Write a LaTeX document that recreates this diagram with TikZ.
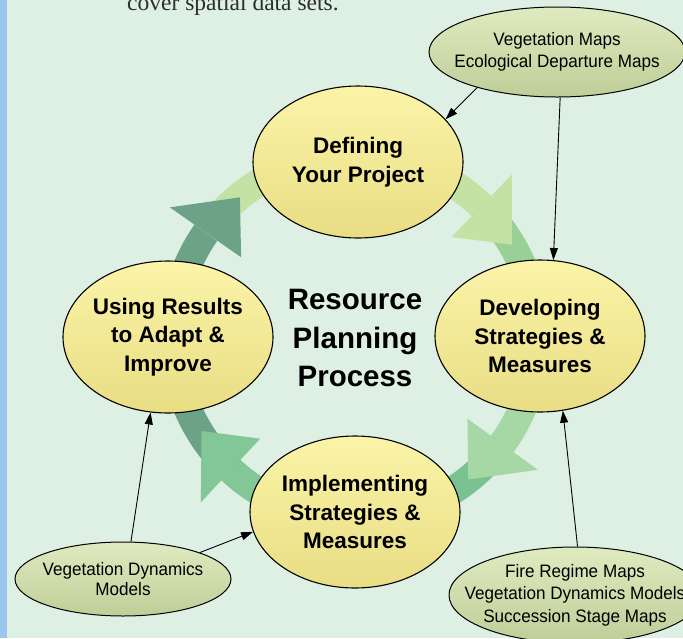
\documentclass[tikz,border=0pt]{standalone}
\usepackage{fontspec}
\setmainfont{Liberation Sans}
\newfontfamily\narrowfont[FakeStretch=0.95]{Liberation Sans}
\newfontfamily\pagefont{Liberation Serif}
\usetikzlibrary{positioning, shapes.geometric, arrows.meta}

\definecolor{paper}{RGB}{222,240,228}
\definecolor{margin}{RGB}{155,198,238}
\definecolor{pagetext}{RGB}{45,45,45}
\definecolor{phasetop}{RGB}{251,244,168}
\definecolor{phasebot}{RGB}{233,221,132}
\definecolor{sourcetop}{RGB}{224,234,192}
\definecolor{sourcebot}{RGB}{190,206,152}
\definecolor{loopa}{RGB}{108,163,134}
\definecolor{loopb}{RGB}{196,226,164}
\definecolor{loopc}{RGB}{152,208,152}
\definecolor{loopd}{RGB}{166,216,166}
\definecolor{loope}{RGB}{122,194,146}
\definecolor{loopf}{RGB}{131,199,151}

\begin{document}
\begin{tikzpicture}[x=1pt, y=-1pt,
    phase/.style={ellipse, draw=black, line width=1.1pt, top color=phasetop, bottom color=phasebot, minimum width=210pt, minimum height=152pt, inner xsep=-12pt, inner ysep=0pt, align=center, font=\fontsize{22.5}{28.5}\selectfont\bfseries},
    source/.style={ellipse, draw=black, line width=1pt, top color=sourcetop, bottom color=sourcebot, inner xsep=-34pt, inner ysep=-6pt, align=center, font=\narrowfont\fontsize{18}{22.5}\selectfont},
    feed/.style={-{Triangle[length=12pt, width=8pt]}, line width=0.9pt},
    band/.style={line width=28pt}
  ]

  \useasboundingbox (0,0) rectangle (683,638);
  \fill[paper] (0,0) rectangle (683,638);
  \fill[margin] (0,0) rectangle (6.5,638);
  \node[font=\pagefont\fontsize{23.5}{28}\selectfont, text=pagetext, anchor=base west, inner sep=0pt] (caption) at (127,10.5) {cover spatial data sets.};

  \begin{scope}[shift={(355,337)}]
    \draw[band, loopa] (180:182) arc[start angle=180, end angle=215, radius=182];
    \draw[band, loopb] (215:182) arc[start angle=215, end angle=270, radius=182];
    \fill[loopa] (215:139) -- (230.5:181) -- (215:226) -- cycle;

    \draw[band, loopb] (270:182) arc[start angle=270, end angle=314, radius=182];
    \draw[band, loopc] (314:182) arc[start angle=314, end angle=360, radius=182];
    \fill[loopb] (314:139) -- (329.5:182) -- (314:226) -- cycle;

    \draw[band, loopd] (0:182) arc[start angle=0, end angle=36, radius=182];
    \draw[band, loope] (36:182) arc[start angle=36, end angle=90, radius=182];
    \fill[loopd] (36:139) -- (51.5:182) -- (36:226) -- cycle;

    \draw[band, loopf] (90:182) arc[start angle=90, end angle=133, radius=182];
    \draw[band, loopa] (133:182) arc[start angle=133, end angle=180, radius=182];
    \fill[loopf] (133:139) -- (148.5:180) -- (133:226) -- cycle;
  \end{scope}

  \node[font=\fontsize{29.5}{38.5}\selectfont\bfseries, align=center] (title) at (355,338) {Resource\\Planning\\Process};

  \node[phase] (define) at (358,162) {Defining\\Your Project};
  \node[phase] (develop) at (540,336) {Developing\\Strategies \&\\Measures};
  \node[phase] (implement) at (355,512) {Implementing\\Strategies \&\\Measures};
  \node[phase] (using) at (168,337) {Using Results\\to Adapt \&\\Improve};

  \node[source, minimum width=256pt, minimum height=90pt] (vegmaps) at (557,52) {Vegetation Maps\\Ecological Departure Maps};
  \node[source, minimum width=216pt, minimum height=74pt, font=\narrowfont\fontsize{18}{20}\selectfont] (dynmodels) at (123,579) {Vegetation Dynamics\\Models};
  \node[source, minimum width=252pt, minimum height=96pt] (firemaps) at (575,595) {Fire Regime Maps\\Vegetation Dynamics Models\\Succession Stage Maps};

  \draw[feed] (vegmaps.204) -- (define.26);
  \draw[feed] (vegmaps.274) -- (develop.80);
  \draw[feed] (dynmodels.78) -- (using.257);
  \draw[feed] (dynmodels.19) -- (implement.191);
  \draw[feed] (firemaps.87) -- (develop.287);

\end{tikzpicture}
\end{document}
